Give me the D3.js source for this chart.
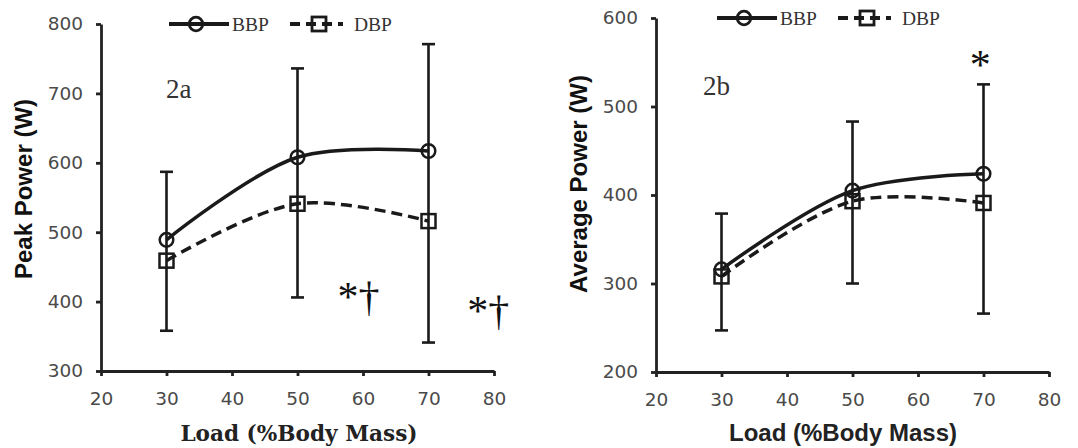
<!DOCTYPE html>
<html>
<head>
<meta charset="utf-8">
<script src="https://cdn.jsdelivr.net/npm/d3@7"></script>
<style>
  body { margin: 0; background: #fff; }
  svg { display: block; }
  .tick text { font-family: "DejaVu Sans", Verdana, sans-serif; font-size: 18.5px; fill: #4a4a4a; }
  .domain, .tick line { stroke: #222; stroke-width: 2.8px; }
</style>
</head>
<body>
<script>
// load levels (% body mass)
var loads = [30, 50, 70];
var xTicks = [20, 30, 40, 50, 60, 70, 80];

// peak power (W), mean and SD
var peakBBP = [489, 608, 617];
var peakBBPsd = [98, 128, 154];
var peakDBP = [459, 541, 516];
var peakDBPsd = [101, 135, 175];
var peakTicks = [300, 400, 500, 600, 700, 800];

// average power (W), mean and SD
var avgBBP = [316, 405, 424];
var avgBBPsd = [63, 78, 101];
var avgDBP = [308, 393, 391];
var avgDBPsd = [61, 93, 125];
var avgTicks = [200, 300, 400, 500, 600];

// significance marks
var peakMarks = [{x: 56.1, y: 386, t: "*†"}, {x: 75.9, y: 366, t: "*†"}];
var avgMarks = [{x: 67.9, y: 531, t: "*"}];

var svg = d3.select("body").append("svg")
  .attr("width", 1078)
  .attr("height", 448);

function drawPanel(p) {
  var x = d3.scaleLinear().domain([20, 80]).range([p.left, p.right]);
  var y = d3.scaleLinear().domain(p.yDomain).range([p.bottom, p.top]);
  var g = svg.append("g");

  g.append("g")
    .attr("transform", `translate(0, ${p.bottom})`)
    .call(d3.axisBottom(x).tickValues(xTicks).tickSize(5).tickPadding(16).tickSizeOuter(0));

  g.append("g")
    .attr("transform", `translate(${p.left}, 0)`)
    .call(d3.axisLeft(y).tickValues(p.yTicks).tickSize(5).tickPadding(13).tickSizeOuter(0));

  // error bars: up from BBP, down from DBP
  var cap = 6.5;
  loads.forEach(function(l, i) {
    var hi = p.bbp[i] + p.bbpSd[i];
    var lo = p.dbp[i] - p.dbpSd[i];
    g.append("line").attr("x1", x(l)).attr("x2", x(l)).attr("y1", y(hi)).attr("y2", y(lo))
      .attr("stroke", "#1a1a1a").attr("stroke-width", 2.6);
    [hi, lo].forEach(function(v) {
      g.append("line").attr("x1", x(l) - cap).attr("x2", x(l) + cap).attr("y1", y(v)).attr("y2", y(v))
        .attr("stroke", "#1a1a1a").attr("stroke-width", 2.6);
    });
  });

  var line = d3.line()
    .x(function(d) { return x(d[0]); })
    .y(function(d) { return y(d[1]); })
    .curve(d3.curveCatmullRom.alpha(0.5));

  g.append("path")
    .datum(d3.zip(loads, p.bbp))
    .attr("d", line)
    .attr("fill", "none")
    .attr("stroke", "#1a1a1a")
    .attr("stroke-width", 3.5);

  g.append("path")
    .datum(d3.zip(loads, p.dbp))
    .attr("d", line)
    .attr("fill", "none")
    .attr("stroke", "#1a1a1a")
    .attr("stroke-width", 3.5)
    .attr("stroke-dasharray", "11,6");

  g.selectAll("circle.bbp")
    .data(d3.zip(loads, p.bbp))
    .enter().append("circle")
    .attr("cx", function(d) { return x(d[0]); })
    .attr("cy", function(d) { return y(d[1]); })
    .attr("r", 6.8)
    .attr("fill", "none")
    .attr("stroke", "#1a1a1a")
    .attr("stroke-width", 2.5);

  g.selectAll("rect.dbp")
    .data(d3.zip(loads, p.dbp))
    .enter().append("rect")
    .attr("x", function(d) { return x(d[0]) - 7; })
    .attr("y", function(d) { return y(d[1]) - 7; })
    .attr("width", 14)
    .attr("height", 14)
    .attr("fill", "none")
    .attr("stroke", "#1a1a1a")
    .attr("stroke-width", 2.5);

  // panel label
  g.append("text")
    .attr("x", p.labelX).attr("y", p.labelY)
    .style("font-family", "'Liberation Serif', serif")
    .style("font-size", "27px")
    .style("fill", "#333")
    .text(p.label);

  // significance marks
  g.selectAll("text.mark")
    .data(p.marks)
    .enter().append("text")
    .attr("x", function(d) { return x(d.x); })
    .attr("y", function(d) { return y(d.y); })
    .style("font-family", "'Liberation Serif', serif")
    .style("font-size", "42px")
    .style("fill", "#111")
    .text(function(d) { return d.t; });

  // legend
  var lg = g.append("g").attr("transform", `translate(${p.legendX}, ${p.legendY})`);
  lg.append("line").attr("x1", 0).attr("x2", 60).attr("y1", 0).attr("y2", 0)
    .attr("stroke", "#1a1a1a").attr("stroke-width", 4);
  lg.append("circle").attr("cx", 27).attr("cy", 0).attr("r", 6.8)
    .attr("fill", "none").attr("stroke", "#1a1a1a").attr("stroke-width", 2.8);
  lg.append("text").attr("x", 63).attr("y", 7)
    .style("font-family", "'Liberation Serif', serif").style("font-size", "19.5px").style("fill", "#333")
    .text("BBP");
  lg.append("line").attr("x1", 121).attr("x2", 174).attr("y1", 0).attr("y2", 0)
    .attr("stroke", "#1a1a1a").attr("stroke-width", 4).attr("stroke-dasharray", "10,6");
  lg.append("rect").attr("x", 143).attr("y", -7).attr("width", 14).attr("height", 14)
    .attr("fill", "none").attr("stroke", "#1a1a1a").attr("stroke-width", 2.8);
  lg.append("text").attr("x", 185).attr("y", 7)
    .style("font-family", "'Liberation Serif', serif").style("font-size", "19.5px").style("fill", "#333")
    .text("DBP");

  // axis titles
  g.append("text")
    .attr("transform", `translate(${p.yTitleX}, ${p.yTitleY}) rotate(-90)`)
    .attr("text-anchor", "middle")
    .style("font-family", "'Liberation Sans', Arial, sans-serif")
    .style("font-weight", "bold")
    .style("font-size", "24px")
    .style("fill", "#111")
    .text(p.yTitle);

  g.append("text")
    .attr("x", p.xTitleX)
    .attr("y", 441)
    .attr("text-anchor", "middle")
    .style("font-family", p.xTitleFont)
    .style("font-weight", "bold")
    .style("font-size", p.xTitleSize)
    .style("fill", "#222")
    .text("Load (%Body Mass)");
}

drawPanel({
  left: 101, right: 494, top: 24, bottom: 371,
  yDomain: [300, 800], yTicks: peakTicks,
  bbp: peakBBP, bbpSd: peakBBPsd, dbp: peakDBP, dbpSd: peakDBPsd,
  marks: peakMarks,
  label: "2a", labelX: 166, labelY: 98,
  legendX: 169, legendY: 24,
  yTitle: "Peak Power (W)", yTitleX: 32, yTitleY: 189,
  xTitleX: 299, xTitleFont: "'DejaVu Serif', serif", xTitleSize: "21.6px"
});

drawPanel({
  left: 656, right: 1049, top: 18, bottom: 372,
  yDomain: [200, 600], yTicks: avgTicks,
  bbp: avgBBP, bbpSd: avgBBPsd, dbp: avgDBP, dbpSd: avgDBPsd,
  marks: avgMarks,
  label: "2b", labelX: 703, labelY: 95,
  legendX: 717, legendY: 18,
  yTitle: "Average Power (W)", yTitleX: 587, yTitleY: 184,
  xTitleX: 843, xTitleFont: "'Liberation Sans', Arial, sans-serif", xTitleSize: "24px"
});
</script>
</body>
</html>
